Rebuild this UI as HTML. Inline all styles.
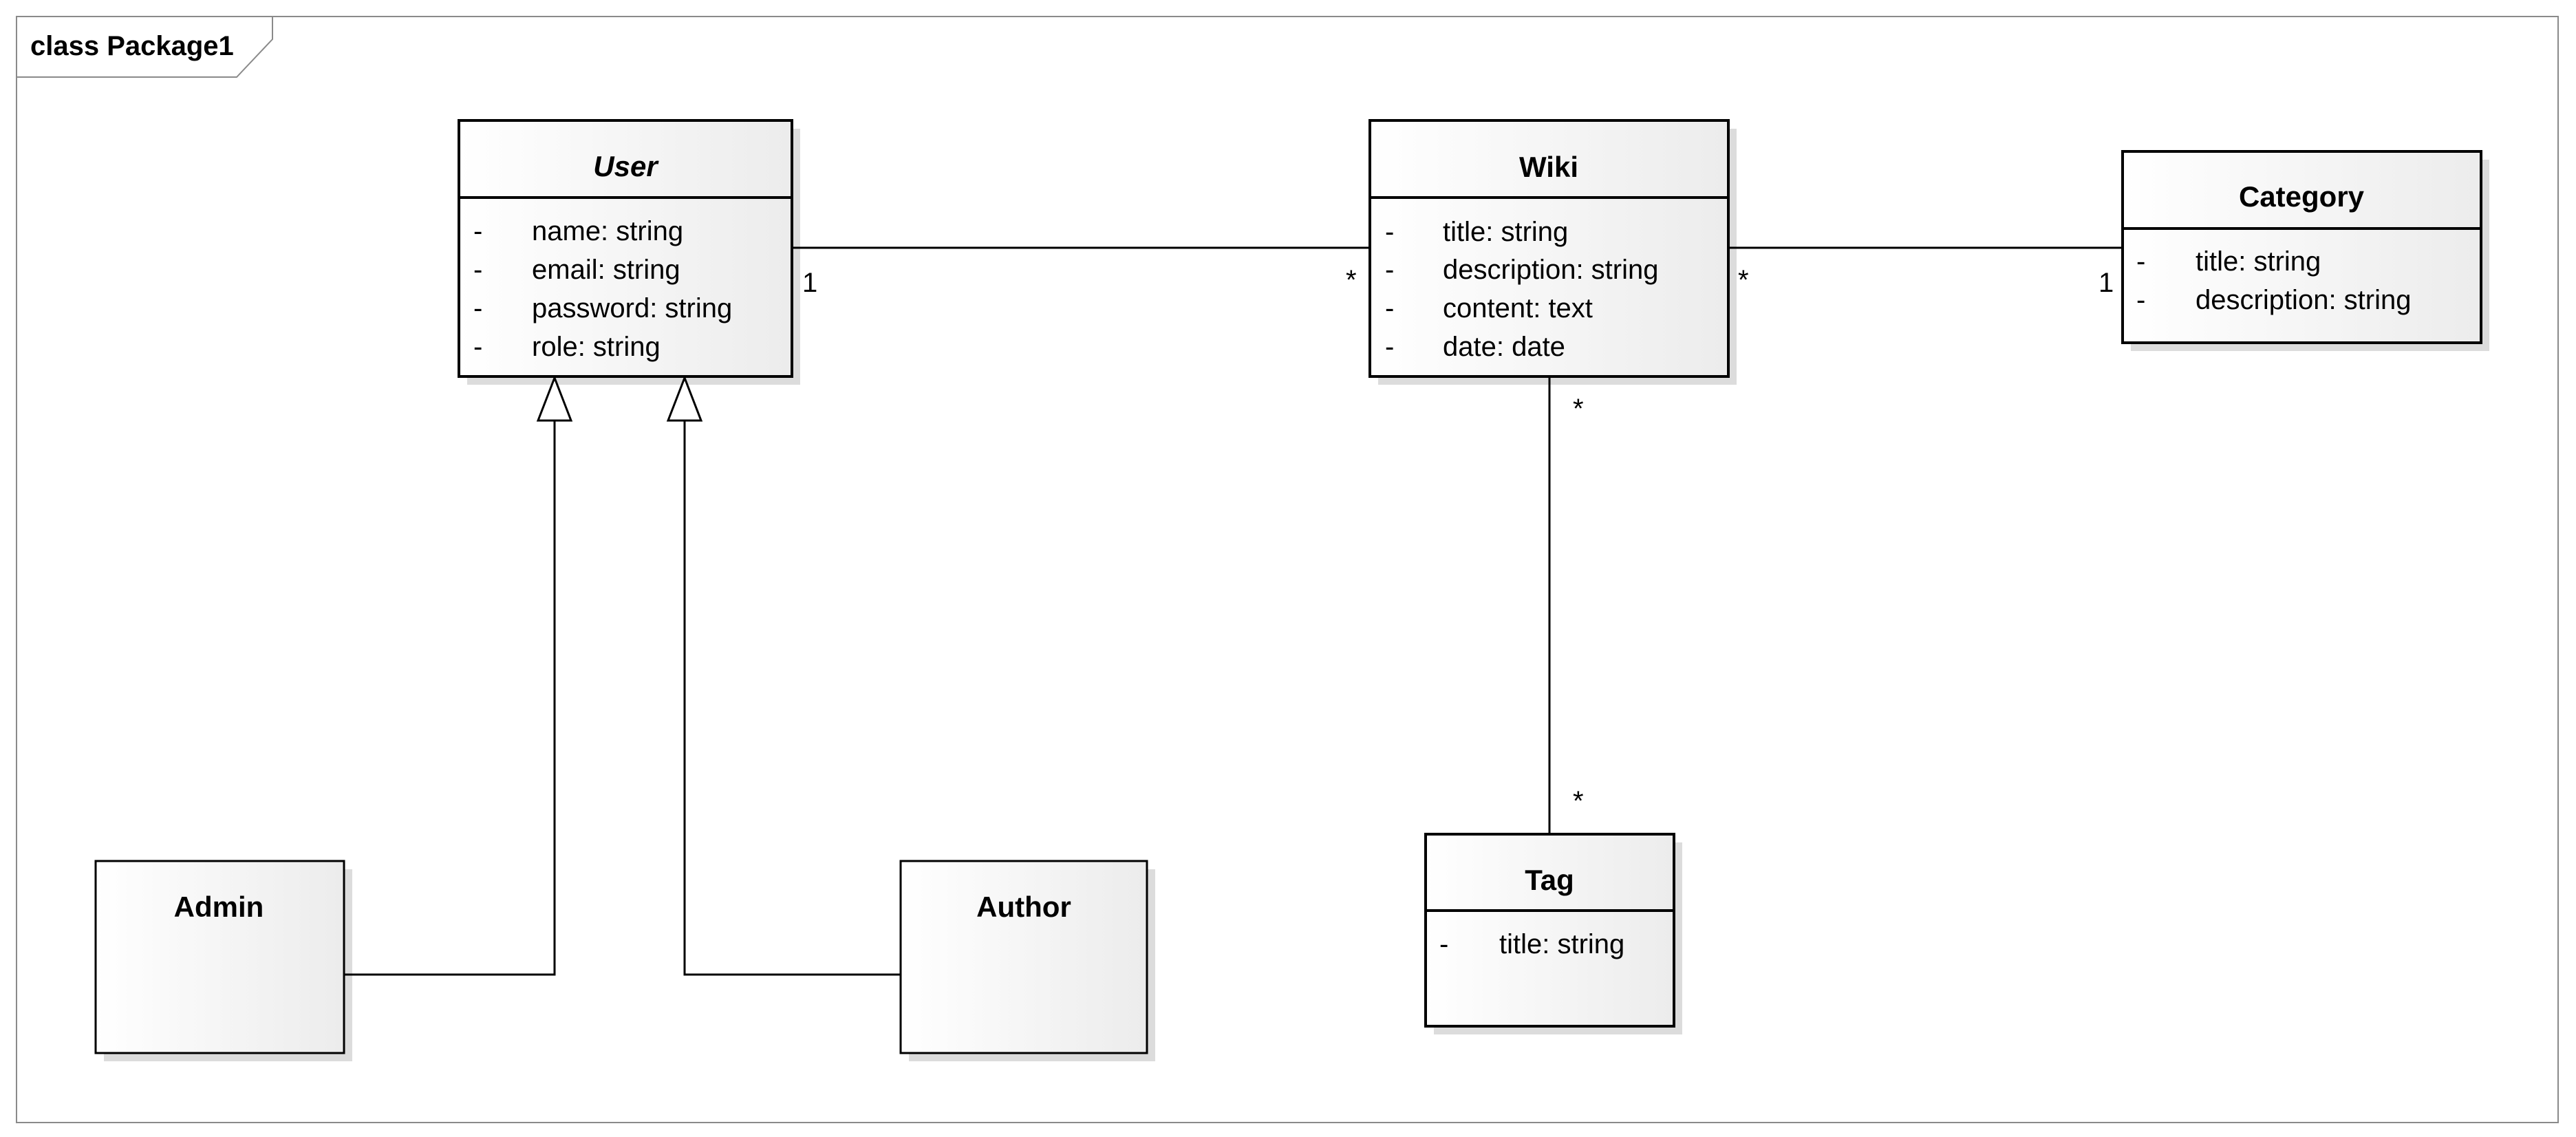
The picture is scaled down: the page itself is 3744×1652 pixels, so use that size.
<!DOCTYPE html>
<html><head><meta charset="utf-8"><style>
html,body{margin:0;padding:0;background:#fff;}
svg{display:block;}
text{font-family:"Liberation Sans",sans-serif;fill:#000;}
.a{font-size:40px;}
.t{font-size:42px;font-weight:bold;}
</style></head><body>
<svg width="3744" height="1652" viewBox="0 0 3744 1652" xmlns="http://www.w3.org/2000/svg">
<defs>
<linearGradient id="g" x1="0" y1="0" x2="1" y2="0"><stop offset="0" stop-color="#ffffff"/><stop offset="1" stop-color="#ececec"/></linearGradient>
</defs>
<rect x="24" y="24" width="3694" height="1607" fill="none" stroke="#8a8a8a" stroke-width="2"/>
<path d="M24 112 H344 L396 57 V24" fill="none" stroke="#8a8a8a" stroke-width="2"/>
<text x="44" y="80" style="font-size:40px;font-weight:bold">class Package1</text>

<g fill="#dcdcdc">
<rect x="679" y="187" width="484" height="372"/>
<rect x="2003" y="187" width="521" height="372"/>
<rect x="3097" y="232" width="521" height="278"/>
<rect x="2084" y="1224" width="361" height="279"/>
<rect x="151" y="1263" width="361" height="279"/>
<rect x="1321" y="1263" width="358" height="279"/>
</g>

<g stroke="#000" stroke-width="3" fill="none">
<line x1="1151" y1="360" x2="1991" y2="360"/>
<line x1="2512" y1="360" x2="3085" y2="360"/>
<line x1="2252" y1="547" x2="2252" y2="1212"/>
<polyline points="500,1416 806,1416 806,611"/>
<polyline points="1309,1416 995,1416 995,611"/>
<polygon points="806,549 782,611 830,611" fill="#fff"/>
<polygon points="995,549 971,611 1019,611" fill="#fff"/>
</g>

<g stroke="#000" stroke-width="4" fill="url(#g)">
<rect x="667" y="175" width="484" height="372"/>
<line x1="667" y1="287" x2="1151" y2="287"/>
<rect x="1991" y="175" width="521" height="372"/>
<line x1="1991" y1="287" x2="2512" y2="287"/>
<rect x="3085" y="220" width="521" height="278"/>
<line x1="3085" y1="332" x2="3606" y2="332"/>
<rect x="2072" y="1212" width="361" height="279"/>
<line x1="2072" y1="1323" x2="2433" y2="1323"/>
</g>
<g stroke="#000" stroke-width="3" fill="url(#g)">
<rect x="139" y="1251" width="361" height="279"/>
<rect x="1309" y="1251" width="358" height="279"/>
</g>

<text x="909" y="256" text-anchor="middle" class="t" font-style="italic">User</text>
<g class="a">
<text x="688" y="349">-</text><text x="773" y="349">name: string</text>
<text x="688" y="405">-</text><text x="773" y="405">email: string</text>
<text x="688" y="461">-</text><text x="773" y="461">password: string</text>
<text x="688" y="517">-</text><text x="773" y="517">role: string</text>
</g>
<text x="2251" y="257" text-anchor="middle" class="t">Wiki</text>
<g class="a">
<text x="2013" y="350">-</text><text x="2097" y="350">title: string</text>
<text x="2013" y="405">-</text><text x="2097" y="405">description: string</text>
<text x="2013" y="461">-</text><text x="2097" y="461">content: text</text>
<text x="2013" y="517">-</text><text x="2097" y="517">date: date</text>
</g>
<text x="3345" y="300" text-anchor="middle" class="t">Category</text>
<g class="a">
<text x="3105" y="393">-</text><text x="3191" y="393">title: string</text>
<text x="3105" y="449">-</text><text x="3191" y="449">description: string</text>
</g>
<text x="2252" y="1293" text-anchor="middle" class="t">Tag</text>
<g class="a">
<text x="2092" y="1385">-</text><text x="2179" y="1385">title: string</text>
</g>
<text x="318" y="1332" text-anchor="middle" class="t">Admin</text>
<text x="1488" y="1332" text-anchor="middle" class="t">Author</text>

<g class="a">
<text x="1166" y="424">1</text>
<text x="1956" y="420">*</text>
<text x="2526" y="420">*</text>
<text x="3050" y="424">1</text>
<text x="2286" y="607">*</text>
<text x="2286" y="1177">*</text>
</g>
</svg>
</body></html>
